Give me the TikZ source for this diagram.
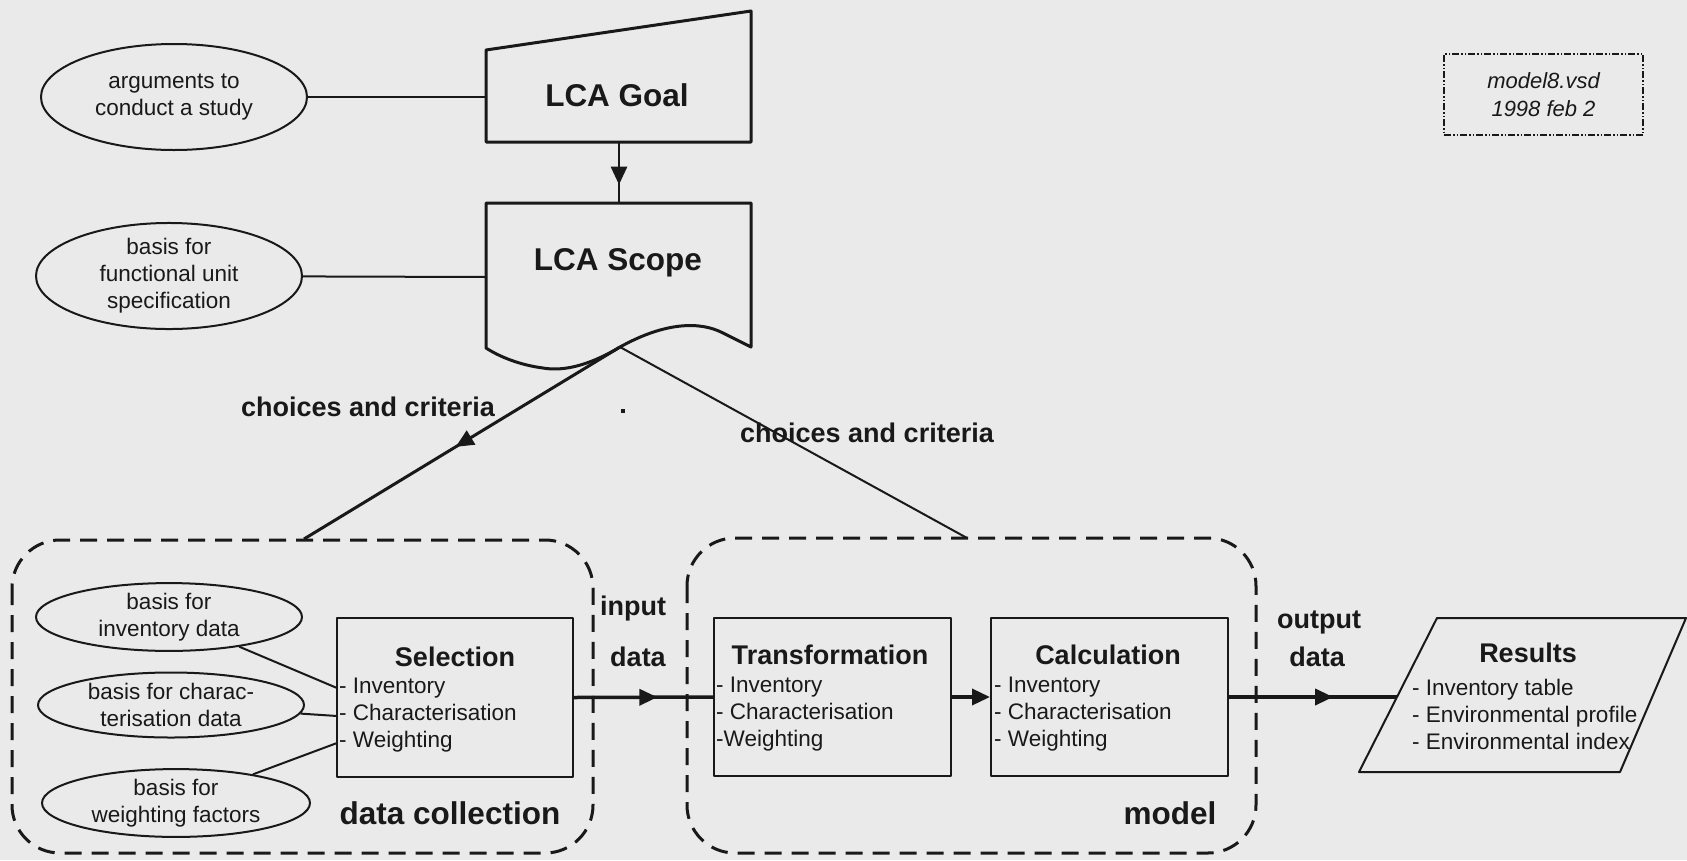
\documentclass[tikz,border=0pt]{standalone}
\usepackage{fontspec}
\setmainfont{Liberation Sans}
\usetikzlibrary{arrows.meta,decorations.markings,shapes.geometric}
\definecolor{bg}{RGB}{234,234,234}
\definecolor{ink}{RGB}{25,25,25}
\tikzset{
  ell/.style={ellipse, draw, line width=2pt, inner sep=0pt, align=center, font=\fontsize{22.5}{27}\selectfont},
  boxnode/.style={rectangle, draw, line width=2pt, inner sep=0pt},
  ttl/.style={font=\bfseries\fontsize{27}{32}\selectfont, inner sep=0pt},
  bigttl/.style={font=\bfseries\fontsize{31.5}{36}\selectfont, inner sep=0pt},
  lst/.style={font=\fontsize{22.5}{27}\selectfont, align=left, anchor=west, inner sep=0pt},
  dbox/.style={draw, line width=3pt, dash pattern=on 17pt off 10pt, rounded corners=48pt},
  midarrow/.style={postaction={decorate}, decoration={markings, mark=at position #1 with {\arrow{Triangle[length=18pt,width=16pt]}}}}
}
\begin{document}
\begin{tikzpicture}[x=1pt, y=-1pt, line join=round, color=ink]
\fill[bg] (0,0) rectangle (1687,860);
\useasboundingbox (0,0) rectangle (1687,860);

% LCA Goal
\draw[line width=3pt] (486,50) -- (751,11) -- (751,142) -- (486,142) -- cycle;
\node[bigttl] (goal) at (617,95) {LCA Goal};
\coordinate (goalW) at (486,97);
\coordinate (goalS) at (619,142);

% LCA Scope
\draw[line width=3pt] (486,203) -- (751,203) -- (751,347) -- (723,333)
  .. controls (700,321) and (665,322) .. (620,347)
  .. controls (585,368) and (560,371) .. (543,368)
  .. controls (520,365) and (500,357) .. (486,348) -- cycle;
\node[bigttl] (scope) at (618,263) {LCA Scope};
\coordinate (scopeN) at (619,203);
\coordinate (scopeW) at (486,277);
\coordinate (cross) at (620,347);

% top ellipses
\node[ell, minimum width=266pt, minimum height=106pt] (e1) at (174,97) {arguments to\\conduct a study};
\node[ell, minimum width=266pt, minimum height=106pt] (e2) at (169,276) {basis for\\functional unit\\specification};
\draw[line width=2pt] (e1) -- (goalW);
\draw[line width=2pt] (e2) -- (scopeW);
\draw[line width=2.5pt, midarrow=0.7] (goalS) -- (scopeN);

% choices and criteria
\coordinate (dcTop) at (304,539);
\coordinate (mTop) at (967,538);
\draw[line width=3pt, midarrow=0.52] (cross) -- (dcTop);
\draw[line width=2pt] (cross) -- (mTop);
\node[ttl] (cc1) at (368,407) {choices and criteria};
\node[ttl] (cc2) at (867,433) {choices and criteria};
\fill (621,409) rectangle (625,413);

% dashed groups
\draw[dbox] (12,540) rectangle (593,853);
\draw[dbox] (687,538) rectangle (1256,853);
\node[bigttl] (dclab) at (450,813) {data collection};
\node[bigttl] (mlab) at (1170,813) {model};

% Selection
\node[boxnode, minimum width=236pt, minimum height=159pt] (sel) at (455,697.5) {};
\node[ttl] (selt) at (455,657) {Selection};
\node[lst] (sell) at (339,715) {- Inventory\\- Characterisation\\- Weighting};
\coordinate (sI) at (337,688);
\coordinate (sC) at (337,716);
\coordinate (sW) at (337,743);

% data ellipses
\node[ell, minimum width=266pt, minimum height=65pt] (e3) at (169,617) {basis for\\inventory data};
\node[ell, minimum width=266pt, minimum height=65pt] (e4) at (171,705) {basis for charac-\\terisation data};
\node[ell, minimum width=268pt, minimum height=63pt] (e5) at (176,803) {basis for\\weighting factors};
\draw[line width=2pt] (e3) -- (sI);
\draw[line width=2pt] (e4) -- (sC);
\draw[line width=2pt] (e5) -- (sW);

% Transformation & Calculation
\node[boxnode, minimum width=237pt, minimum height=158pt] (trans) at (832.5,697) {};
\node[ttl] (transt) at (830,655) {Transformation};
\node[lst] (transl) at (716,714) {- Inventory\\- Characterisation\\-Weighting};
\node[boxnode, minimum width=237pt, minimum height=158pt] (calc) at (1109.5,697) {};
\node[ttl] (calct) at (1108,655) {Calculation};
\node[lst] (calcl) at (994,714) {- Inventory\\- Characterisation\\- Weighting};

\node[ttl] (in1) at (633,609) {input};
\node[ttl] (in2) at (638,657) {data};
\node[ttl] (out1) at (1319,622) {output};
\node[ttl] (out2) at (1317,657) {data};

\draw[line width=3.5pt, midarrow=0.6] (sel.east) -- (trans.west);
\draw[line width=3.5pt, -{Triangle[length=18pt,width=16pt]}] (trans.east) -- (calc.west);

% Results
\draw[line width=2pt] (1437,618) -- (1686,618) -- (1620,772) -- (1359,772) -- cycle;
\coordinate (resW) at (1397,697);
\node[ttl] (rest) at (1528,653) {Results};
\node[lst] (resl) at (1412,714) {- Inventory table\\- Environmental profile\\- Environmental index};
\draw[line width=3.5pt, midarrow=0.62] (calc.east) -- (resW);

% file note
\node[draw, line width=1.5pt, dash pattern=on 7pt off 2pt on 1.5pt off 2pt on 1.5pt off 2pt,
      minimum width=199pt, minimum height=81pt, align=center,
      font=\itshape\fontsize{22}{28}\selectfont] (note) at (1543.5,94.5) {model8.vsd\\1998 feb 2};
\end{tikzpicture}
\end{document}
